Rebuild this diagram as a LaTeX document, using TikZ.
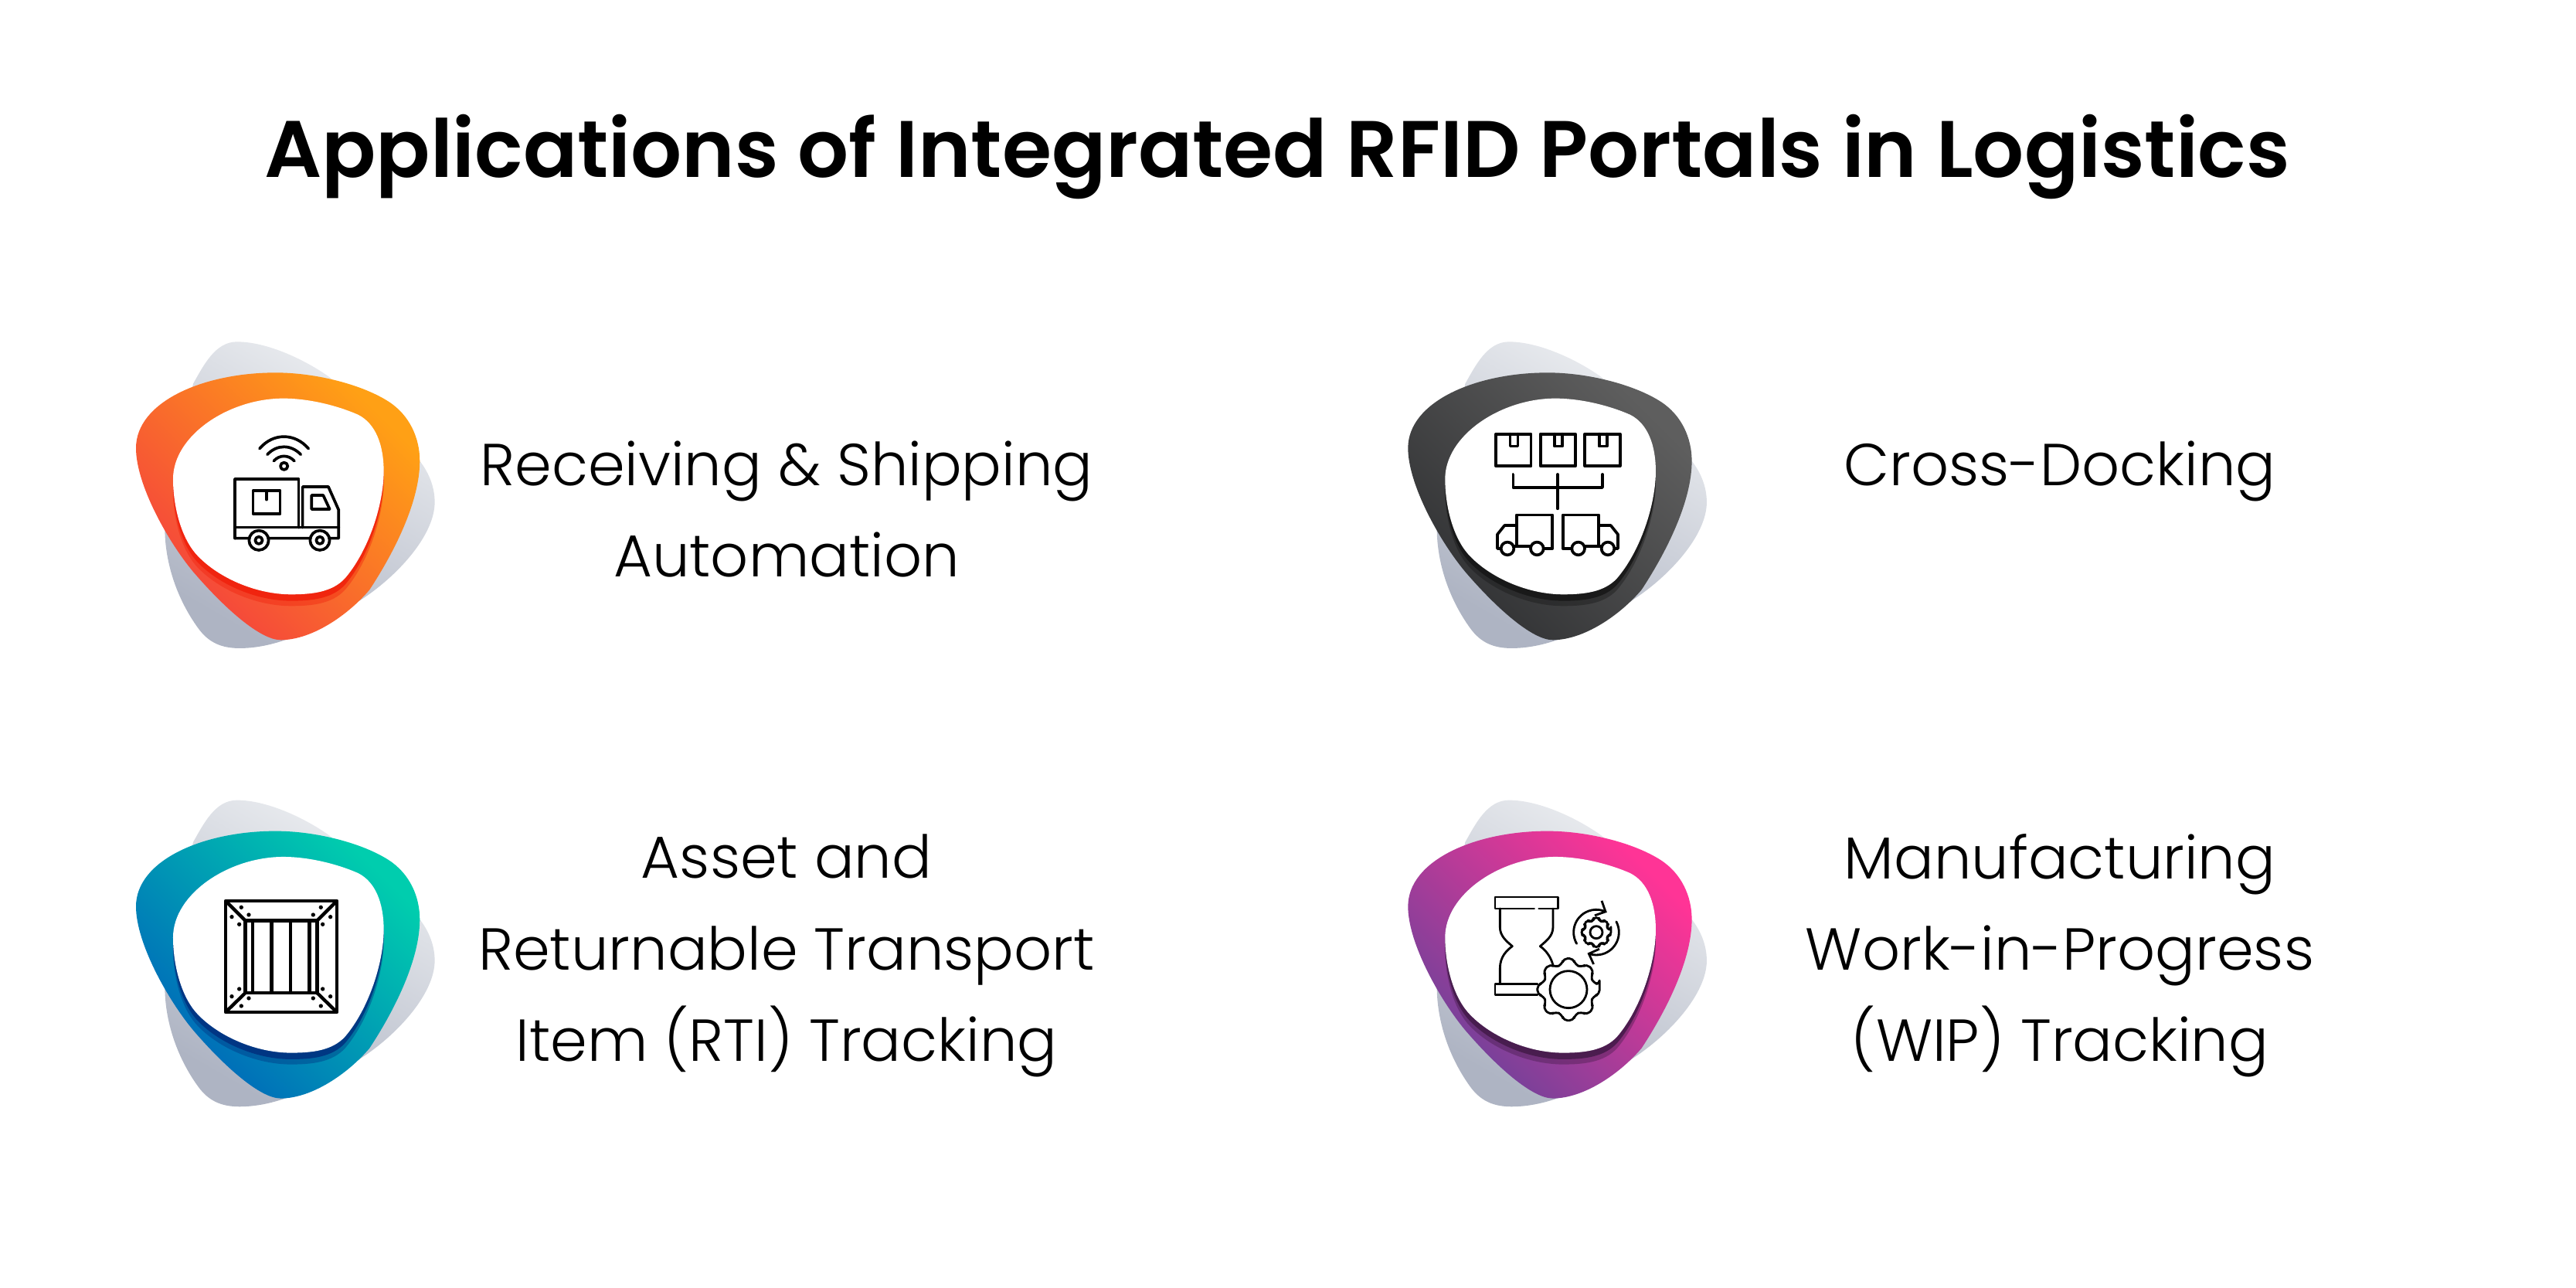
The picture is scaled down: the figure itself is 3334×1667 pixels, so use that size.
\documentclass[tikz,border=0pt]{standalone}
\usepackage{fontspec}
\usetikzlibrary{arrows.meta}
\setmainfont{Poppins Light}[BoldFont={Poppins SemiBold}]

\definecolor{orangeA}{HTML}{FFA015}
\definecolor{orangeB}{HTML}{F4403E}
\definecolor{orangeC}{HTML}{F0200C}
\definecolor{darkA}{HTML}{5E5E5E}
\definecolor{darkB}{HTML}{303133}
\definecolor{darkC}{HTML}{161616}
\definecolor{tealA}{HTML}{00CDAE}
\definecolor{tealB}{HTML}{0065BA}
\definecolor{tealC}{HTML}{00307F}
\definecolor{pinkA}{HTML}{FF3496}
\definecolor{pinkB}{HTML}{6B429A}
\definecolor{pinkC}{HTML}{431A48}
\definecolor{greyA}{HTML}{ECEEF1}
\definecolor{greyB}{HTML}{AEB4C3}

\tikzset{
    back path/.style={insert path={(470,67) .. controls (590,67) and (740,140) .. (830,205)
        -- (1180,530) .. controls (1215,575) and (1238,630) .. (1238,690)
        .. controls (1238,820) and (1090,980) .. (950,1070)
        .. controls (800,1170) and (640,1257) .. (480,1257)
        .. controls (410,1257) and (360,1235) .. (320,1180)
        .. controls (240,1070) and (190,930) .. (190,790)
        -- (300,230) .. controls (340,160) and (385,67) .. (470,67) -- cycle}},
    outer path/.style={insert path={(620,187) .. controls (780,187) and (960,235) .. (1060,300)
        .. controls (1140,352) and (1180,440) .. (1180,530)
        .. controls (1180,680) and (1090,870) .. (985,1030)
        .. controls (900,1130) and (760,1225) .. (640,1225)
        .. controls (560,1225) and (420,1100) .. (300,960)
        .. controls (200,840) and (78,620) .. (78,480)
        .. controls (78,300) and (340,187) .. (620,187) -- cycle}},
    inner path/.style={insert path={(650,287) .. controls (750,287) and (860,315) .. (940,350)
        .. controls (1010,385) and (1040,470) .. (1040,570)
        .. controls (1040,700) and (980,880) .. (890,985)
        .. controls (840,1040) and (760,1048) .. (680,1048)
        .. controls (540,1048) and (390,980) .. (310,890)
        .. controls (250,820) and (222,700) .. (222,600)
        .. controls (222,430) and (440,287) .. (650,287) -- cycle}},
    pics/blob/.style n args={3}{code={
        \shade[bottom color=greyB,top color=greyA,shading angle=-30,back path];
        \shade[bottom color=#2,top color=#1,shading angle=-45,outer path];
        \fill[#3,opacity=0.4,shift={(0,45)},inner path];
        \fill[#3,opacity=0.85,shift={(0,25)},inner path];
        \fill[white,inner path];
    }},
    pics/truckicon/.style={code={
        \draw[icon line] (558,482) .. controls (610,420) and (695,420) .. (748,482);
        \draw[icon line] (588,505) .. controls (625,465) and (680,465) .. (718,505);
        \draw[icon line] (613,530) .. controls (635,505) and (670,505) .. (693,530);
        \draw[icon line] (653,550) circle (14);
        \draw[icon line] (462,830) -- (462,600) -- (710,600) -- (710,788);
        \draw[icon line] (725,788) -- (725,630) -- (825,630) -- (865,720) -- (865,830) -- (462,830);
        \draw[icon line] (462,788) -- (865,788);
        \draw[icon line] (760,663) -- (805,663) -- (830,717) -- (760,717) -- cycle;
        \draw[icon line] (533,645) rectangle (638,735);
        \draw[icon line] (585,645) -- (585,680);
        \foreach \wx in {555,792} {
            \draw[icon line,fill=white] (\wx,838) circle (38);
            \draw[icon line] (\wx,838) circle (14);
        }
    }},
    pics/dockicon/.style={code={
        \foreach \bx in {378,551,724} {
            \draw[icon line] (\bx,425) rectangle ++(136,125);
            \draw[icon line] (\bx+55,425) -- ++(0,48) -- ++(30,0) -- ++(0,-48);
        }
        \draw[icon line] (445,582) -- (445,633) -- (792,633) -- (792,582);
        \draw[icon line] (618,582) -- (618,715);
        \foreach \sx/\ox in {1/0,-1/1236} {
            \begin{scope}[shift={(\ox,0)},xscale=\sx]
                \draw[icon line] (458,862) -- (458,740) -- (598,740) -- (598,870) -- (565,870);
                \draw[icon line] (458,780) -- (412,780) -- (384,815) -- (384,870) -- (396,870);
                \draw[icon line] (450,862) -- (512,862);
                \draw[icon line,fill=white] (423,870) circle (25);
                \draw[icon line,fill=white] (538,870) circle (25);
            \end{scope}
        }
    }},
    pics/crateicon/.style={code={
        \draw[crate line] (426,438) rectangle (858,870);
        \draw[crate line] (503,515) rectangle (781,795);
        \foreach \px in {531,605,678,752} {
            \draw[crate line] (\px,515) -- (\px,795);
        }
        \draw[crate line] (426,438) -- (503,515);
        \draw[crate line] (858,438) -- (781,515);
        \draw[crate line] (426,870) -- (503,795);
        \draw[crate line] (858,870) -- (781,795);
        \foreach \dx/\dy in {487/463,516/492,450/500,479/529,796/463,766/492,833/500,803/529,
            479/780,450/809,516/816,487/846,803/780,833/809,766/816,796/846} {
            \fill (\dx,\dy) circle (8);
        }
    }},
    pics/gearicon/.style={code={
        \draw[gear line] (527,468) -- (375,468) -- (375,423) -- (620,423) -- (620,468) -- (545,468);
        \draw[gear line] (394,468) -- (394,540) .. controls (394,575) and (420,595) .. (442,614)
            .. controls (420,630) and (394,655) .. (394,700) -- (394,757);
        \draw[gear line] (600,468) -- (600,540) .. controls (600,575) and (572,595) .. (550,614)
            .. controls (572,630) and (592,655) .. (600,688);
        \draw[gear line] (540,760) -- (375,760) -- (375,803) -- (540,803);
        \begin{scope}[shift={(660,782)}]
            \draw[gear line,fill=white,rounded corners=1.5pt] (-9:122)
                \foreach \ga in {0,45,...,315} { -- ({\ga-9}:122) -- ({\ga+9}:122) -- ({\ga+15}:100) -- ({\ga+30}:100) } -- cycle;
            \draw[gear line] (0,0) circle (72);
        \end{scope}
        \begin{scope}[shift={(768,560)}]
            \draw[gear line,rounded corners=1pt] (-10:58)
                \foreach \ga in {0,45,...,315} { -- ({\ga-10}:58) -- ({\ga+10}:58) -- ({\ga+15}:47) -- ({\ga+30}:47) } -- cycle;
            \draw[gear line] (0,0) circle (24);
            \draw[gear line,-{Straight Barb[length=3pt,width=6pt]}] plot[smooth,domain=150:298,samples=20] ({88*cos(\x)},{88*sin(\x)});
            \draw[gear line,-{Straight Barb[length=3pt,width=6pt]}] plot[smooth,domain=332:473,samples=20] ({88*cos(\x)},{88*sin(\x)});
        \end{scope}
    }}
}

\begin{document}
\begin{tikzpicture}[x=0.01cm,y=-0.01cm,
    icon line/.style={line width=1.05pt,black,line join=round,line cap=round},
    crate line/.style={line width=1.25pt,black,line join=round},
    gear line/.style={line width=0.8pt,black,line join=round,line cap=round},
    title node/.style={font=\fontsize{29.5pt}{36pt}\selectfont\bfseries,inner sep=0pt},
    label node/.style={font=\fontsize{21.8pt}{33.6pt}\selectfont,align=center,inner sep=0pt}]
    \useasboundingbox (0,0) rectangle (3334,1667);

    \pic[scale=0.3333] at (150,420) {blob={orangeA}{orangeB}{orangeC}};
    \pic[scale=0.3333] at (1796.3,420) {blob={darkA}{darkB}{darkC}};
    \pic[scale=0.3333] at (150,1013.3) {blob={tealA}{tealB}{tealC}};
    \pic[scale=0.3333] at (1796.3,1013.3) {blob={pinkA}{pinkB}{pinkC}};

    \pic[scale=0.3333] at (150,420) {truckicon};
    \pic[scale=0.3333] at (1810,420) {dockicon};
    \pic[scale=0.3333] at (150,1020) {crateicon};
    \pic[scale=0.3333] at (1810,1020) {gearicon};

    \node[title node] (title) at (1653,203) {Applications of Integrated RFID Portals in Logistics};
    \node[label node] (receiving) at (1018,659) {Receiving \& Shipping\\Automation};
    \node[label node] (crossdock) at (2666,610) {Cross-Docking};
    \node[label node] (asset) at (1018,1237) {Asset and\\Returnable Transport\\Item (RTI) Tracking};
    \node[label node] (wip) at (2666,1237) {Manufacturing\\Work-in-Progress\\(WIP) Tracking};
\end{tikzpicture}
\end{document}
